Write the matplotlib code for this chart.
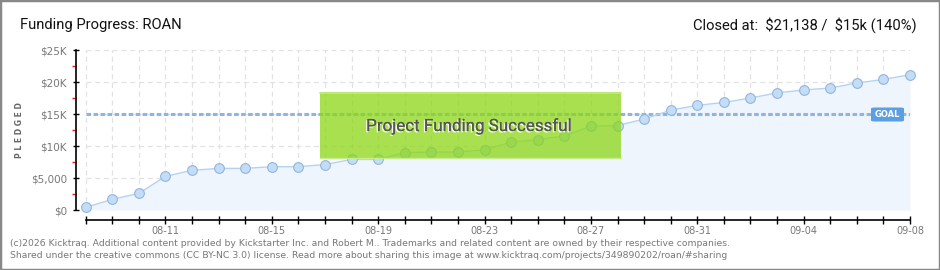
import matplotlib
matplotlib.use("Agg")
import matplotlib.pyplot as plt
from matplotlib.patches import Rectangle, FancyBboxPatch
import matplotlib.patheffects as pe
import numpy as np

# ---- data ----
dates = ["08-08","08-09","08-10","08-11","08-12","08-13","08-14","08-15","08-16","08-17",
         "08-18","08-19","08-20","08-21","08-22","08-23","08-24","08-25","08-26","08-27",
         "08-28","08-29","08-30","08-31","09-01","09-02","09-03","09-04","09-05","09-06",
         "09-07","09-08"]
pledged = [400, 1670, 2600, 5260, 6200, 6500, 6500, 6770, 6770, 7100,
           7900, 7900, 8960, 9050, 9050, 9400, 10600, 11000, 11560, 13100,
           13200, 14200, 15600, 16350, 16800, 17500, 18300, 18750, 19060, 19840,
           20400, 21138]
goal = 15000
y_ticks = [0, 5000, 10000, 15000, 20000, 25000]
y_labels = ["\\$0", "\\$5,000", "\\$10K", "\\$15K", "\\$20K", "\\$25K"]
x_label_idx = [3, 7, 11, 15, 19, 23, 27, 31]
title = "Funding Progress: ROAN"
summary = "Closed at:  \\$21,138 /  \\$15k (140%)"
banner = "Project Funding Successful"
footer1 = ("(c)2026 Kicktraq. Additional content provided by Kickstarter Inc. and Robert M.. "
           "Trademarks and related content are owned by their respective companies.")
footer2 = ("Shared under the creative commons (CC BY-NC 3.0) license. Read more about sharing "
           "this image at www.kicktraq.com/projects/349890202/roan/#sharing")

W, H = 940, 270
fig = plt.figure(figsize=(W/100, H/100), dpi=100)
fig.patch.set_facecolor("white")

def fx(px): return px / W
def fy(py): return 1 - py / H

ax = fig.add_axes([fx(76), fy(220), (910-76)/W, 170/H])
x = np.arange(len(dates))
ax.set_xlim(-0.365, len(dates) - 1)
ax.set_ylim(-1562.5, 25000)
ax.set_facecolor("none")

# grid
ax.hlines(y_ticks[1:], 0, len(dates) - 1, colors="#e2e2e2", linestyles=(0, (4, 3)), linewidth=0.9, zorder=0)
ax.vlines(x, 0, y_ticks[-1], colors="#e2e2e2", linestyles=(0, (4, 3)), linewidth=0.9, zorder=0)

# fill + line
ax.fill_between(x, 0, pledged, color="#eef5fd", zorder=1, linewidth=0)
ax.plot(x, pledged, color="#b4d2f2", linewidth=1.0, zorder=3,
        marker="o", markersize=7, markerfacecolor="#c4ddf7", markeredgecolor="#93b5da",
        markeredgewidth=0.8, clip_on=False)

# goal line
ax.plot([0, len(dates) - 1], [goal, goal], color="#8fb4e3", linewidth=2.2,
        linestyle=(0, (1.5, 0.8)), zorder=2, solid_capstyle="butt")

# spines / ticks
for s in ["top", "right"]:
    ax.spines[s].set_visible(False)
ax.spines["left"].set_bounds(0, 25000)
ax.spines["bottom"].set_bounds(0, len(dates) - 1)
ax.spines["left"].set_linewidth(1.2)
ax.spines["bottom"].set_linewidth(1.2)
ax.set_yticks(y_ticks)
ax.set_yticklabels(y_labels)
ax.set_yticks([2500, 7500, 12500, 17500, 22500], minor=True)
ax.tick_params(axis="y", which="major", direction="inout", length=5, width=1.0,
               labelsize=7.5, labelcolor="#777777", pad=4)
ax.tick_params(axis="y", which="minor", direction="out", length=3, width=1.0, color="#e02020")
ax.set_xticks(x)
ax.set_xticklabels([dates[i] if i in x_label_idx else "" for i in x])
ax.tick_params(axis="x", which="major", direction="inout", length=6, width=1.0,
               labelsize=7, labelcolor="#777777", pad=1.5)

# PLEDGED label
fig.text(fx(20), fy(130), "P L E D G E D", rotation=90, ha="center", va="center",
         fontsize=5.5, color="#666666", fontweight="bold")

# banner (semi-transparent, drawn over the axes)
rect = Rectangle((fx(320), fy(158)), fx(621) - fx(320), fy(92) - fy(158),
                 transform=fig.transFigure, facecolor="#8bd616", alpha=0.75,
                 edgecolor="none", zorder=5, clip_on=False)
ax.add_artist(rect)
ax.add_artist(plt.Line2D([fx(320), fx(621)], [fy(92.5), fy(92.5)], color="#c4ec80",
                         linewidth=1.2, transform=fig.transFigure, zorder=6, clip_on=False))
ax.add_artist(plt.Line2D([fx(320), fx(621)], [fy(157.5), fy(157.5)], color="#c8ec90",
                         linewidth=1.0, transform=fig.transFigure, zorder=6, clip_on=False))
fig.text(fx(468), fy(126), banner, ha="center", va="center", fontsize=12.2,
         color="#555555", family="Roboto", zorder=7,
         path_effects=[pe.withSimplePatchShadow(offset=(-1, -1), shadow_rgbFace="white", alpha=0.9),
                       pe.Normal()])

# GOAL badge
gb = FancyBboxPatch((fx(871), fy(121.5)), fx(904) - fx(871), fy(107.5) - fy(121.5),
                    boxstyle="round,pad=0,rounding_size=0.004", transform=fig.transFigure,
                    facecolor="#5b9ee1", edgecolor="none", zorder=6, clip_on=False)
ax.add_artist(gb)
fig.text(fx(887.5), fy(114.5), "GOAL", ha="center", va="center", fontsize=6,
         color="white", fontweight="bold", zorder=7)

# header
fig.text(fx(20), fy(25), title, ha="left", va="center", fontsize=10.6, color="#111111",
         family="Roboto")
fig.text(fx(917), fy(25), summary, ha="right", va="center", fontsize=10.6, color="#111111",
         family="Roboto")

# footer
fig.text(fx(10), fy(243), footer1, ha="left", va="center", fontsize=6.65, color="#777777")
fig.text(fx(10), fy(255), footer2, ha="left", va="center", fontsize=6.65, color="#777777")

# frame
fig.patches.append(Rectangle((0, 0), 1, 1, transform=fig.transFigure, fill=False,
                             edgecolor="#888888", linewidth=2.5, zorder=10))

fig.savefig("out.png", dpi=100)
